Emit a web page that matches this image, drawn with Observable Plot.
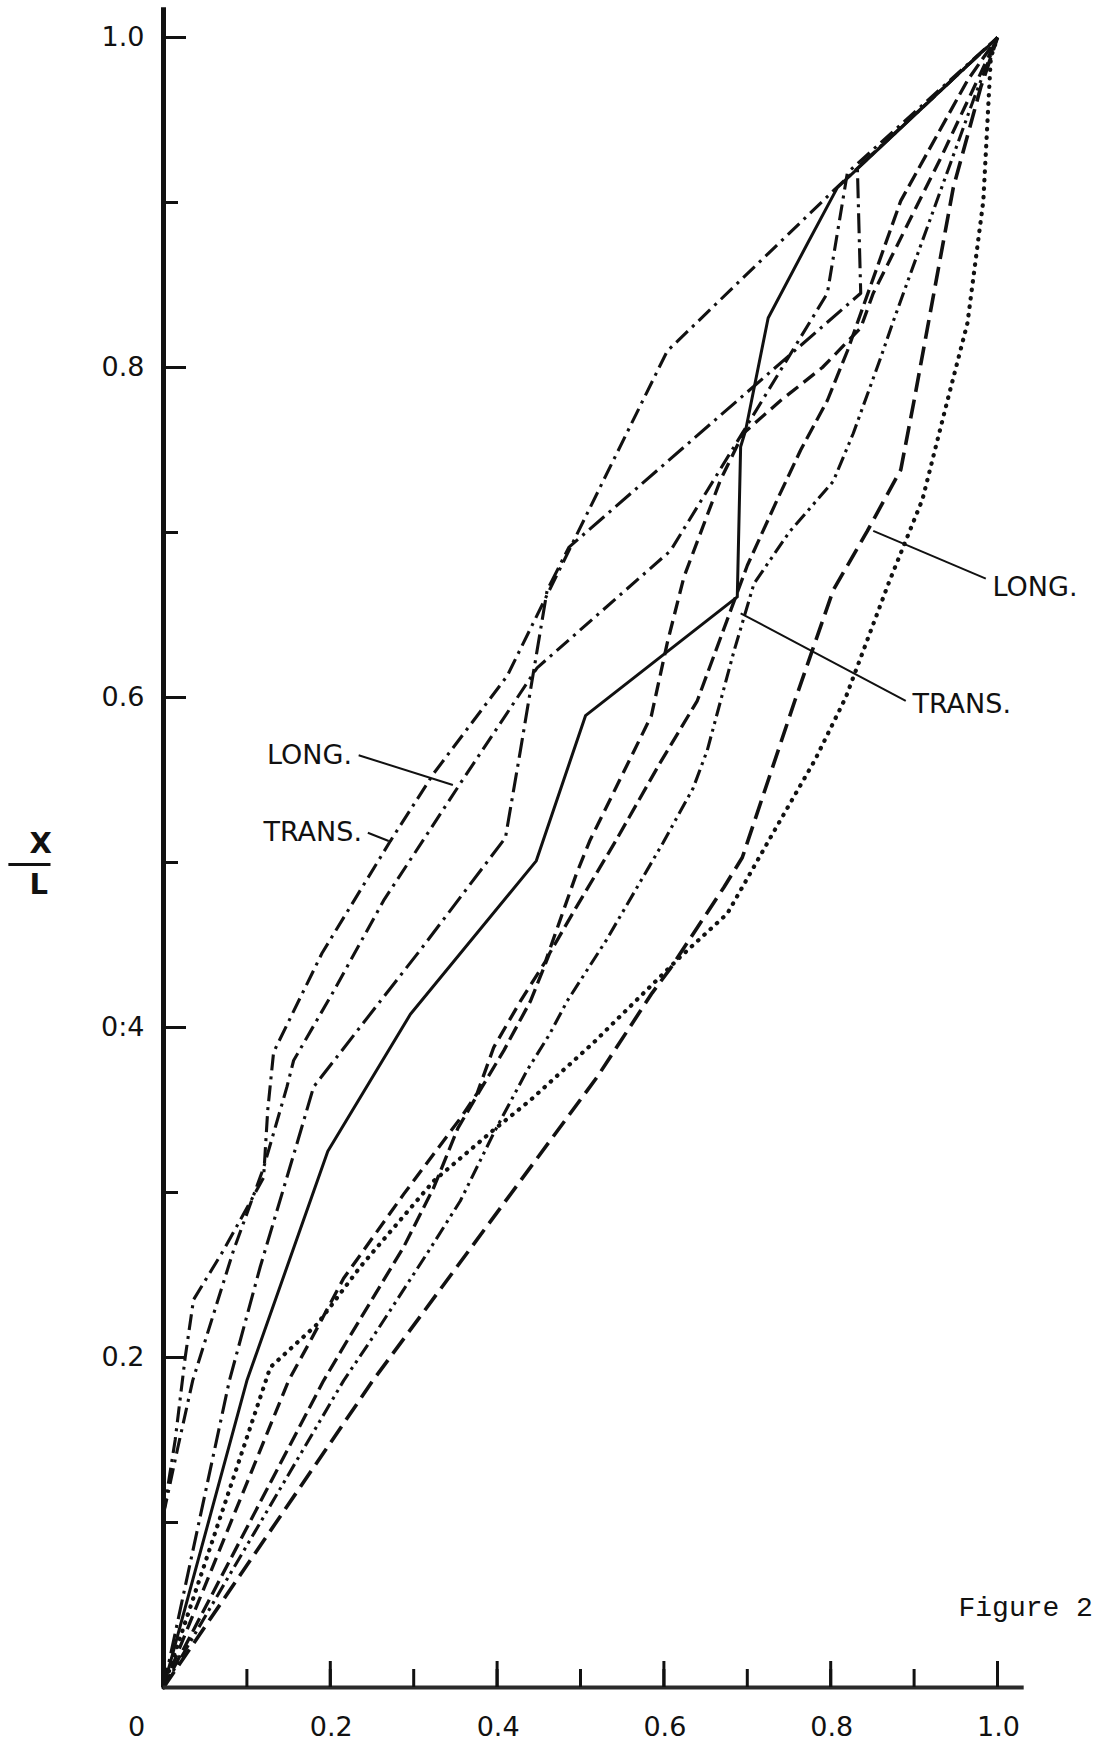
<!DOCTYPE html>
<html>
<head>
<meta charset="utf-8">
<script src="https://cdn.jsdelivr.net/npm/d3@7"></script>
<script src="https://cdn.jsdelivr.net/npm/@observablehq/plot@0.6"></script>
<style>
  html, body { margin: 0; padding: 0; background: #fff; }
  #chart svg { display: block; background: #fff; }
  [aria-label="ticklabel"], [aria-label="ticklabel"] text { letter-spacing: 2px; }
  [aria-label="curvelabel"], [aria-label="curvelabel"] text { letter-spacing: 1px; }
</style>
</head>
<body>
<div id="chart"></div>
<script>
// ---- data (x, x/L) ----
const transLeft = [[0,0.105],[0.014,0.15],[0.026,0.2],[0.036,0.235],[0.072,0.265],[0.12,0.309],[0.125,0.35],[0.132,0.385],[0.19,0.445],[0.272,0.513],[0.324,0.554],[0.412,0.613],[0.604,0.81],[0.803,0.907],[1,1]];
const longLeft = [[0,0.105],[0.017,0.145],[0.035,0.186],[0.084,0.265],[0.12,0.315],[0.148,0.364],[0.156,0.38],[0.204,0.422],[0.264,0.477],[0.356,0.548],[0.448,0.618],[0.608,0.689],[0.695,0.761],[0.796,0.845],[0.82,0.918],[1,1]];
const dashDotMid = [[0,0],[0.079,0.186],[0.116,0.255],[0.162,0.333],[0.18,0.364],[0.26,0.416],[0.308,0.447],[0.41,0.515],[0.428,0.568],[0.46,0.665],[0.486,0.691],[0.836,0.845],[0.832,0.921],[1,1]];
const solid = [[0,0],[0.10,0.186],[0.197,0.325],[0.296,0.408],[0.447,0.501],[0.506,0.589],[0.688,0.661],[0.692,0.752],[0.698,0.762],[0.725,0.83],[0.772,0.875],[0.808,0.909],[1,1]];
const dotted = [[0,0],[0.128,0.194],[0.184,0.22],[0.236,0.255],[0.324,0.307],[0.396,0.338],[0.44,0.356],[0.516,0.391],[0.554,0.41],[0.618,0.442],[0.676,0.469],[0.694,0.485],[0.731,0.518],[0.781,0.562],[0.818,0.60],[0.87,0.67],[0.91,0.72],[0.94,0.78],[0.964,0.827],[0.983,0.901],[0.992,0.988],[1,1]];
const dashedA = [[0,0],[0.15,0.186],[0.176,0.21],[0.216,0.248],[0.288,0.299],[0.356,0.345],[0.376,0.36],[0.396,0.388],[0.428,0.416],[0.458,0.44],[0.495,0.493],[0.511,0.513],[0.585,0.589],[0.604,0.633],[0.624,0.673],[0.668,0.732],[0.695,0.76],[0.74,0.78],[0.79,0.80],[0.836,0.824],[0.851,0.845],[0.932,0.927],[1,1]];
const dashedB = [[0,0],[0.192,0.186],[0.22,0.21],[0.288,0.267],[0.324,0.303],[0.353,0.339],[0.382,0.364],[0.408,0.386],[0.44,0.416],[0.463,0.445],[0.495,0.473],[0.541,0.512],[0.595,0.56],[0.64,0.598],[0.70,0.68],[0.736,0.72],[0.764,0.75],[0.796,0.78],[0.82,0.81],[0.884,0.901],[0.964,0.974],[1,1]];
const transRight = [[0,0],[0.216,0.186],[0.248,0.21],[0.316,0.263],[0.356,0.295],[0.396,0.336],[0.436,0.374],[0.463,0.396],[0.484,0.416],[0.531,0.453],[0.599,0.512],[0.635,0.545],[0.652,0.568],[0.684,0.628],[0.708,0.669],[0.75,0.70],[0.803,0.731],[0.827,0.76],[0.86,0.806],[0.875,0.828],[0.971,0.962],[1,1]];
const longRight = [[0,0],[0.251,0.186],[0.52,0.37],[0.586,0.421],[0.608,0.436],[0.672,0.485],[0.694,0.503],[0.757,0.598],[0.803,0.665],[0.844,0.701],[0.884,0.738],[0.9,0.78],[0.947,0.909],[0.98,0.97],[1,1]];

const seriesNames = ["transLeft","longLeft","dashDotMid","solid","dotted","dashedA","dashedB","transRight","longRight"];
const seriesData = {transLeft, longLeft, dashDotMid, solid, dotted, dashedA, dashedB, transRight, longRight};

const yTickValues = [0.1,0.2,0.3,0.4,0.5,0.6,0.7,0.8,0.9,1.0];
const yLabelValues = [0.2,0.4,0.6,0.8,1.0];
const yLabelTexts = ["0.2","0:4","0.6","0.8","1.0"];
const xTickValues = [0.1,0.2,0.3,0.4,0.5,0.6,0.7,0.8,0.9,1.0];
const xLabelValues = [0,0.2,0.4,0.6,0.8,1.0];
const xLabelTexts = ["0","0.2","0.4","0.6","0.8","1.0"];

// curve annotations: label text, label anchor point, leader start / end points
const labelTexts = ["LONG.","TRANS.","TRANS.","LONG."];
const labelX = [0.226,0.238,0.898,0.994];
const labelY = [0.565,0.518,0.596,0.667];
const leaderX1 = [0.234,0.245,0.890,0.986];
const leaderY1 = [0.565,0.518,0.598,0.672];
const leaderX2 = [0.347,0.270,0.692,0.851];
const leaderY2 = [0.547,0.513,0.651,0.701];

// y-axis title bar (fraction line of x / L), in data units
const titleBarX = [-0.186, -0.1355];
const titleBarY = 0.4988;

// ---- styles ----
const styles = {
  transLeft:  {dash: "16,6,3,6", w: 3.1},
  longLeft:   {dash: "16,6,3,6", w: 3.1},
  dashDotMid: {dash: "20,6,3,6", w: 3.1},
  solid:      {dash: null, w: 3},
  dotted:     {dash: "0.5,8", w: 4.2, cap: "round"},
  dashedA:    {dash: "14,7", w: 3.3},
  dashedB:    {dash: "15,6", w: 3.3},
  transRight: {dash: "14,5,3,5,3,5", w: 3.1},
  longRight:  {dash: "19,8", w: 3.6}
};

const rows = seriesNames.flatMap(s => seriesData[s].map(([x, y]) => ({series: s, x, y})));
const ink = "#111";
const sans = "DejaVu Sans";

const lineMarks = seriesNames.map(s => Plot.line(rows.filter(r => r.series === s), {
  x: "x", y: "y", stroke: ink, strokeWidth: styles[s].w,
  strokeDasharray: styles[s].dash, strokeLinecap: styles[s].cap || "butt",
  strokeLinejoin: "round", curve: "linear"
}));

const annos = labelTexts.map((t, i) => ({t, lx: labelX[i], ly: labelY[i], x1: leaderX1[i], y1: leaderY1[i], x2: leaderX2[i], y2: leaderY2[i], side: i < 2 ? "end" : "start"}));

const chart = Plot.plot({
  width: 1094,
  height: 1744,
  marginLeft: 163,
  marginRight: 97,
  marginTop: 37,
  marginBottom: 57,
  style: {background: "#fff", color: ink},
  x: {domain: [0, 1]},
  y: {domain: [0, 1]},
  marks: [
    ...lineMarks,
    // axis lines
    Plot.ruleX([0], {y1: 0, y2: 1.018, stroke: ink, strokeWidth: 5}),
    Plot.ruleY([0], {x1: 0, x2: 1.032, stroke: "#2a2a2a", strokeWidth: 4}),
    // ticks (pointing inward)
    Plot.axisY(yTickValues, {anchor: "left", tickSize: -15, strokeWidth: 3, stroke: ink, fill: "none", label: null}),
    Plot.axisY(yLabelValues, {anchor: "left", tickSize: -23, strokeWidth: 3, stroke: ink, fill: "none", label: null}),
    Plot.axisX(xTickValues, {anchor: "bottom", tickSize: -18, strokeWidth: 3, stroke: ink, fill: "none", label: null}),
    Plot.axisX(xLabelValues.slice(1), {anchor: "bottom", tickSize: -26, strokeWidth: 3, stroke: ink, fill: "none", label: null}),
    // tick labels
    Plot.text(yLabelValues, {x: 0, y: d => d, text: d => yLabelTexts[yLabelValues.indexOf(d)], dx: -19, textAnchor: "end", fontSize: 27, fill: ink, fontFamily: sans, ariaLabel: "ticklabel"}),
    Plot.text(xLabelValues.slice(1), {x: d => d, y: 0, text: d => xLabelTexts[xLabelValues.indexOf(d)], dx: 1, dy: 40, fontSize: 27, fill: ink, fontFamily: sans, ariaLabel: "ticklabel"}),
    Plot.text(xLabelValues.slice(0, 1), {x: d => d, y: 0, text: d => xLabelTexts[xLabelValues.indexOf(d)], dx: -27, dy: 40, fontSize: 27, fill: ink, fontFamily: sans, ariaLabel: "ticklabel"}),
    // y-axis title  x / L
    Plot.text(["X"], {frameAnchor: "left", dx: -134, dy: -19, fontSize: 29, fontWeight: "bold", fill: ink, fontFamily: sans}),
    Plot.text(["L"], {frameAnchor: "left", dx: -134, dy: 22, fontSize: 29, fontWeight: "bold", fill: ink, fontFamily: sans}),
    Plot.link([titleBarY], {x1: titleBarX[0], x2: titleBarX[1], y1: d => d, y2: d => d, stroke: ink, strokeWidth: 3}),
    // curve labels and leaders
    Plot.link(annos, {x1: "x1", y1: "y1", x2: "x2", y2: "y2", stroke: ink, strokeWidth: 2}),
    Plot.text(annos.filter(a => a.side === "end"), {x: "lx", y: "ly", text: "t", textAnchor: "end", fontSize: 27, fill: ink, fontFamily: sans, ariaLabel: "curvelabel"}),
    Plot.text(annos.filter(a => a.side === "start"), {x: "lx", y: "ly", text: "t", textAnchor: "start", fontSize: 27, fill: ink, fontFamily: sans, ariaLabel: "curvelabel"}),
    // figure caption
    Plot.text(["Figure 2"], {frameAnchor: "bottom-right", dx: -39, dy: -72, textAnchor: "start", fontSize: 28, fill: ink, fontFamily: "Liberation Mono"})
  ]
});
document.getElementById("chart").appendChild(chart);
</script>
</body>
</html>
